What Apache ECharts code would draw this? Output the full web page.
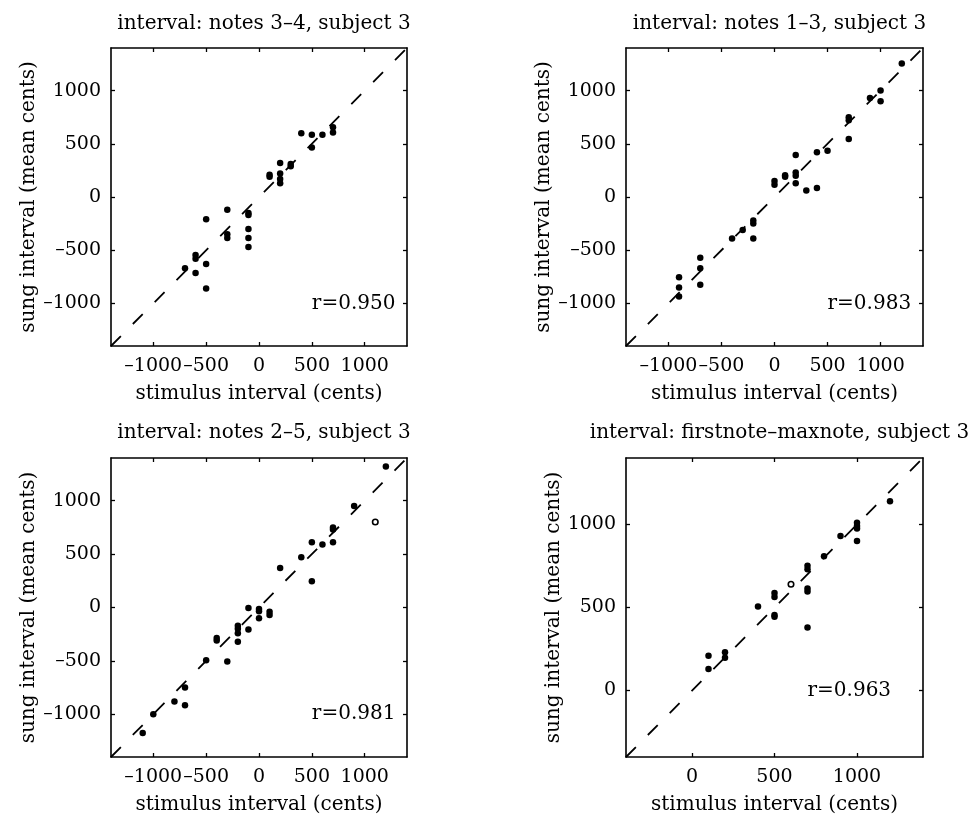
<!DOCTYPE html>
<html>
<head>
<meta charset="utf-8">
<script src="https://cdn.jsdelivr.net/npm/echarts@6/dist/echarts.min.js"></script>
<style>
html,body{margin:0;padding:0;background:#fff;}
#chart{width:974px;height:823px;}
</style>
</head>
<body>
<div id="chart"></div>
<script>
// ---------- data ----------
const titles = [
  'interval: notes 3\u20134, subject 3',
  'interval: notes 1\u20133, subject 3',
  'interval: notes 2\u20135, subject 3',
  'interval: firstnote\u2013maxnote, subject 3'
];
const xName = 'stimulus interval (cents)';
const yName = 'sung interval (mean cents)';

// panel 1: notes 3-4
const p1X = [-700,-600,-600,-600,-500,-500,-500,-300,-300,-300,-100,-100,-100,-100,-100,100,100,200,200,200,200,300,300,400,500,500,600,700,700];
const p1Y = [-670,-545,-580,-715,-210,-630,-860,-120,-350,-385,-150,-170,-300,-385,-470,210,190,320,220,170,130,310,290,600,585,465,585,655,605];
// panel 2: notes 1-3
const p2X = [-900,-900,-900,-700,-700,-700,-400,-300,-200,-200,-200,0,0,100,100,200,200,200,200,300,400,400,500,700,700,700,900,1000,1000,1200];
const p2Y = [-755,-850,-935,-570,-670,-825,-390,-310,-220,-250,-390,150,115,205,190,395,230,200,130,60,420,85,435,750,720,545,930,1000,900,1255];
// panel 3: notes 2-5
const p3X = [-1100,-1000,-800,-700,-700,-500,-400,-400,-300,-200,-200,-200,-200,-100,-100,0,0,0,100,100,200,400,500,500,600,700,700,700,900,1200];
const p3Y = [-1175,-1000,-880,-750,-915,-495,-285,-310,-505,-170,-200,-240,-320,-5,-205,-15,-35,-100,-40,-70,370,470,610,245,590,750,730,610,950,1320];
const p3HollowX = [1100];
const p3HollowY = [800];
// panel 4: firstnote-maxnote
const p4X = [100,100,200,200,400,500,500,500,500,700,700,700,700,700,800,900,1000,1000,1000,1000,1200];
const p4Y = [210,130,230,197,506,588,563,455,445,752,730,615,597,380,809,930,1010,990,975,900,1140];
const p4HollowX = [600];
const p4HollowY = [640];

const rTexts = ['r=0.950','r=0.983','r=0.981','r=0.963'];
const rAnchorX = [500, 500, 500, 700];
const rAnchorY = [-1000, -1000, -1000, 0];

const ranges = [[-1400,1400],[-1400,1400],[-1400,1400],[-400,1400]];
const ticks = [
  [-1000,-500,0,500,1000],
  [-1000,-500,0,500,1000],
  [-1000,-500,0,500,1000],
  [0,500,1000]
];

// ---------- layout ----------
const grids = [
  {left:111, top:48, width:296, height:298},
  {left:626, top:48, width:297, height:298},
  {left:111, top:458, width:296, height:299},
  {left:626, top:458, width:297, height:299}
];
const yNameGaps = [72, 72, 72, 60];
const titleTops = [9, 9, 418, 418];

const FONT = '"DejaVu Serif", serif';
const fmt = v => String(v).replace('-', '\u2013');

function axis(i, pos, isX, primary){
  return {
    type:'value', gridIndex:i, position:pos,
    min:ranges[i][0], max:ranges[i][1],
    name: primary ? (isX ? xName : yName) : '',
    nameLocation:'middle',
    nameGap: isX ? 38 : yNameGaps[i],
    nameTextStyle:{fontFamily:FONT, fontSize:20, color:'#000'},
    axisLine:{show:true, onZero:false, lineStyle:{color:'#000', width:1.6}},
    axisTick:{show:true, inside:true, length:4, customValues:ticks[i], lineStyle:{color:'#000', width:1.3}},
    axisLabel:{show:primary, customValues:ticks[i], fontFamily:FONT, fontSize:19, color:'#000', margin:isX?11:10, formatter:fmt},
    splitLine:{show:false}
  };
}

const xAxes = [], yAxes = [], series = [], titleList = [];
const filled = [[p1X,p1Y],[p2X,p2Y],[p3X,p3Y],[p4X,p4Y]];
const hollow = [[[],[]],[[],[]],[p3HollowX,p3HollowY],[p4HollowX,p4HollowY]];
for (let i = 0; i < 4; i++){
  xAxes.push(axis(i,'bottom',true,true));
  xAxes.push(axis(i,'top',true,false));
  yAxes.push(axis(i,'left',false,true));
  yAxes.push(axis(i,'right',false,false));
  const g = grids[i];
  titleList.push({
    text: titles[i], left: g.left + g.width/2, top: titleTops[i], textAlign:'center',
    textStyle:{fontFamily:FONT, fontSize:20, fontWeight:'normal', color:'#000'}
  });
  series.push({
    type:'line', xAxisIndex:2*i, yAxisIndex:2*i, z:1,
    data:[[ranges[i][0],ranges[i][0]],[ranges[i][1],ranges[i][1]]],
    symbol:'none', silent:true, animation:false,
    lineStyle:{color:'#000', width:1.8, type:[14,17], opacity:1}
  });
  series.push({
    type:'scatter', xAxisIndex:2*i, yAxisIndex:2*i, z:3, animation:false,
    data: filled[i][0].map((x,k)=>[x, filled[i][1][k]]),
    symbol:'circle', symbolSize:6.5, itemStyle:{color:'#000', opacity:1}
  });
  if (hollow[i][0].length){
    series.push({
      type:'scatter', xAxisIndex:2*i, yAxisIndex:2*i, z:3, animation:false,
      data: hollow[i][0].map((x,k)=>[x, hollow[i][1][k]]),
      symbol:'circle', symbolSize:5.5, itemStyle:{color:'#fff', borderColor:'#000', borderWidth:1.6, opacity:1}
    });
  }
  series.push({
    type:'scatter', xAxisIndex:2*i, yAxisIndex:2*i, z:4, animation:false, silent:true,
    data:[[rAnchorX[i], rAnchorY[i]]], symbolSize:0,
    itemStyle:{opacity:1},
    label:{show:true, position:'right', distance:0, formatter:rTexts[i],
      fontFamily:FONT, fontSize:20, color:'#000', opacity:1}
  });
}

const chart = echarts.init(document.getElementById('chart'), null, {renderer:'canvas'});
chart.setOption({
  backgroundColor:'#fff',
  animation:false,
  title: titleList,
  grid: grids,
  xAxis: xAxes,
  yAxis: yAxes,
  series: series
});
</script>
</body>
</html>
